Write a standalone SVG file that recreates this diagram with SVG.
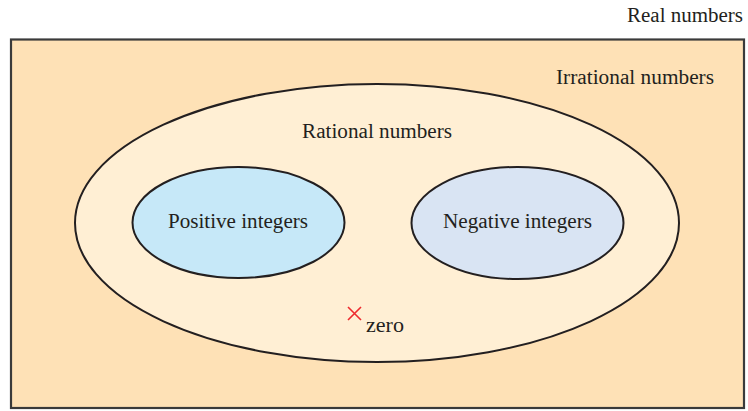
<svg xmlns="http://www.w3.org/2000/svg" width="748" height="411" viewBox="0 0 748 411">
<style>
text{font-family:"Liberation Serif","Times New Roman",serif;font-size:20px;fill:#231f20}
.ln{stroke:#231f20;stroke-width:2}
</style>
<rect width="748" height="411" fill="#ffffff"/>
<g id="real">
<rect x="11" y="39.5" width="733" height="368.5" fill="#fee1b6" stroke="#3a3a3a" stroke-width="2.2"/>
<text x="627" y="22" textLength="116" lengthAdjust="spacingAndGlyphs">Real numbers</text>
</g>
<g id="irrational">
<text x="556" y="84" textLength="158" lengthAdjust="spacingAndGlyphs">Irrational numbers</text>
</g>
<g id="rational">
<ellipse cx="377" cy="223" rx="302" ry="139" fill="#ffefd4" class="ln"/>
<text x="302" y="138" textLength="150" lengthAdjust="spacingAndGlyphs">Rational numbers</text>
</g>
<g id="positive">
<ellipse cx="238.5" cy="222.5" rx="106" ry="55.5" fill="#c6e8f8" class="ln"/>
<text x="168" y="228" textLength="140" lengthAdjust="spacingAndGlyphs">Positive integers</text>
</g>
<g id="negative">
<ellipse cx="517.5" cy="223" rx="106" ry="56" fill="#d9e4f3" class="ln"/>
<text x="443" y="228" textLength="149" lengthAdjust="spacingAndGlyphs">Negative integers</text>
</g>
<g id="zero">
<path d="M348 307 L361 320 M361 307 L348 320" stroke="#ee2a2e" stroke-width="1.6" fill="none"/>
<text x="366" y="332" textLength="38" lengthAdjust="spacingAndGlyphs">zero</text>
</g>
<g id="connectors"></g>
</svg>
